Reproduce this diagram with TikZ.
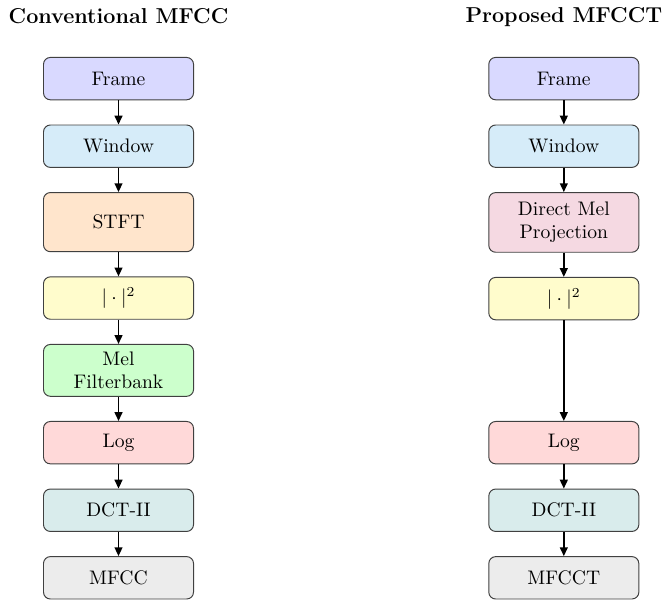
\documentclass[tikz,border=0pt]{standalone}
\usetikzlibrary{positioning,arrows.meta}
\definecolor{finestra}{RGB}{214,236,249}

\begin{document}
\begin{tikzpicture}[
    box/.style={rectangle, rounded corners=3.5pt, draw=black!75, line width=0.5pt,
      minimum width=2.69cm, minimum height=0.76cm, align=center, inner sep=2pt},
    freccia/.style={-{Triangle[length=4.5pt,width=4pt]}, line width=0.8pt},
    titolo/.style={font=\fontsize{11}{13}\selectfont\bfseries, anchor=base},
    node distance=0.434cm
  ]
  \useasboundingbox (0,0) rectangle (12.05,-10.81);

  % Titoli
  \node[titolo] (t1) at (2.125,-0.43) {Conventional MFCC};
  \node[titolo] (t2) at (10.11,-0.41) {Proposed MFCCT};

  % Catena convenzionale
  \node[box, fill=blue!15] (c1) at (2.125,-1.41) {Frame};
  \node[box, fill=finestra, below=of c1] (c2) {Window};
  \node[box, fill=orange!20, minimum height=1.06cm, below=of c2] (c3) {STFT};
  \node[box, fill=yellow!20, below=of c3] (c4) {$|\cdot|^2$};
  \node[box, fill=green!20, minimum height=0.93cm, below=of c4] (c5) {Mel\\Filterbank};
  \node[box, fill=red!15, below=of c5] (c6) {Log};
  \node[box, fill=teal!15, below=of c6] (c7) {DCT-II};
  \node[box, fill=gray!15, below=of c7] (c8) {MFCC};

  % Catena proposta
  \node[box, fill=blue!15] (p1) at (10.11,-1.41) {Frame};
  \node[box, fill=finestra, below=of p1] (p2) {Window};
  \node[box, fill=purple!15, minimum height=1.07cm, below=of p2] (p3) {Direct Mel\\Projection};
  \node[box, fill=yellow!20, below=of p3] (p4) {$|\cdot|^2$};
  \node[box, fill=red!15] (p5) at (p4 |- c6) {Log};
  \node[box, fill=teal!15, below=of p5] (p6) {DCT-II};
  \node[box, fill=gray!15, below=of p6] (p7) {MFCCT};

  % Frecce
  \foreach \a/\b in {c1/c2, c2/c3, c3/c4, c4/c5, c5/c6, c6/c7, c7/c8,
                     p1/p2, p2/p3, p3/p4, p4/p5, p5/p6, p6/p7}
    \draw[freccia] (\a) -- (\b);
\end{tikzpicture}
\end{document}
